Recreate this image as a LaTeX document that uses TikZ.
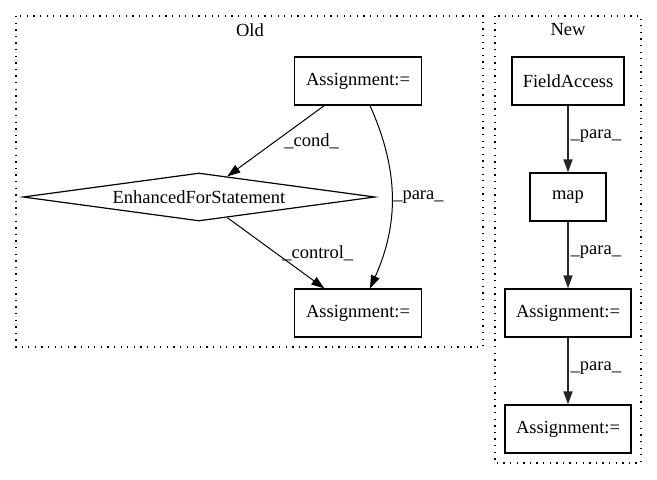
\documentclass[tikz,border=0pt]{standalone}
\usepackage{fontspec}
\setmainfont{Liberation Serif}
\usetikzlibrary{arrows.meta,shapes.geometric}

\tikzset{
	box/.style={draw, rectangle, line width=1.2pt, minimum height=48pt, inner sep=0pt},
	cond/.style={draw, diamond, line width=1.2pt, aspect=7.3, inner sep=0pt, minimum width=352pt, minimum height=48pt},
	cluster/.style={line width=1.3pt, dash pattern=on 1.3pt off 5.3pt},
	lbl/.style={inner sep=0pt, text=black},
	edge/.style={line width=1pt},
	nedge/.style={line width=1.4pt, black!85}
}

\begin{document}
\begin{tikzpicture}[x=1pt, y=-1pt, font=\fontsize{18.5}{22}\selectfont, >={Triangle[length=13pt, width=9pt]}]
	\useasboundingbox (0,0) rectangle (657,480);
	
	% clusters
	\draw [cluster] (16,16) rectangle (483,347);
	\node [lbl] (oldtitle) at (250,30) {Old};
	\draw [cluster] (495,16) rectangle (641,463);
	\node [lbl] (newtitle) at (568,30) {New};
	
	% old
	\node [box, minimum width=127pt] (oldassign) at (358,81) {Assignment:=};
	\node [cond] (efs) at (199,197) {EnhancedForStatement};
	\node [box, minimum width=127pt] (oldassignb) at (358,313) {Assignment:=};
	
	\draw [edge] [->] (oldassign) -- node[lbl, midway, right=8pt] {\_cond\_} (efs);
	\draw [edge] [->] (efs) -- node[lbl, midway, right=6pt] {\_control\_} (oldassignb);
	\draw [edge] [->] ([xshift=12pt]oldassign.south) .. controls +(29,65) and +(29,-65) .. node[lbl, pos=0.5, right=1pt] {\_para\_} ([xshift=12pt]oldassignb.north);
	
	% new
	\node [box, minimum width=112pt] (fieldaccess) at (568,81) {FieldAccess};
	\node [box, minimum width=76pt] (map) at (568,197) {map};
	\node [box, minimum width=126pt] (newassign) at (568,313) {Assignment:=};
	\node [box, minimum width=126pt] (newassignb) at (568,429) {Assignment:=};
	
	\draw [nedge] [->] (fieldaccess) -- node[lbl, midway, right=2pt, yshift=3pt] {\_para\_} (map);
	\draw [nedge] [->] (map) -- node[lbl, midway, right=2pt, yshift=3pt] {\_para\_} (newassign);
	\draw [nedge] [->] (newassign) -- node[lbl, midway, right=2pt, yshift=3pt] {\_para\_} (newassignb);
\end{tikzpicture}
\end{document}
